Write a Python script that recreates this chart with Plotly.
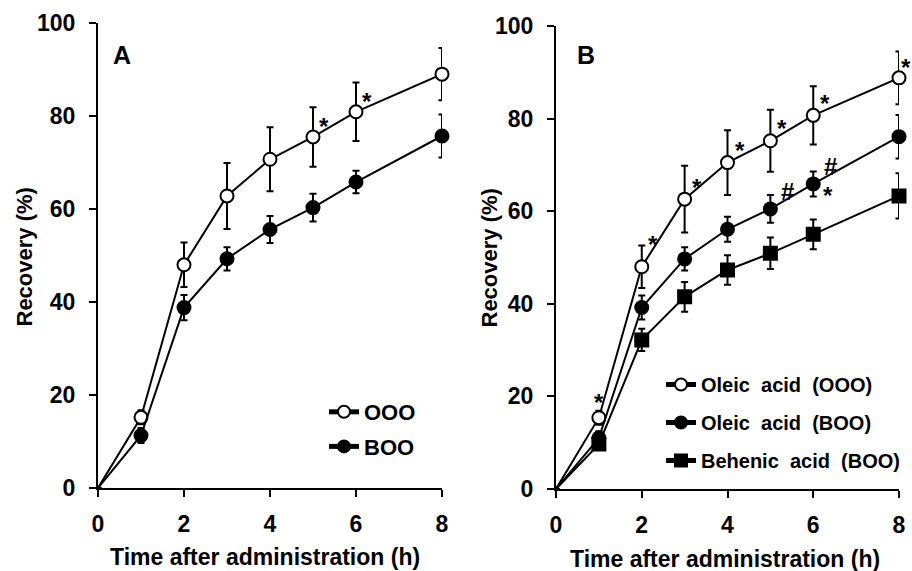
import plotly.graph_objects as go

# ---------------- data ----------------
time = [0, 1, 2, 3, 4, 5, 6, 8]

a_ooo = [0, 15.2, 48.0, 62.8, 70.7, 75.5, 80.9, 89.0]
a_ooo_err = [0, 1.5, 4.8, 7.1, 6.9, 6.4, 6.3, 5.6]
a_boo = [0, 11.3, 38.8, 49.3, 55.6, 60.3, 65.8, 75.7]
a_boo_err = [0, 1.6, 2.7, 2.5, 2.9, 3.0, 2.4, 4.6]

b_ooo = [0, 15.4, 48.0, 62.6, 70.5, 75.2, 80.7, 88.8]
b_ooo_err = [0, 1.5, 4.6, 7.2, 7.0, 6.7, 6.3, 5.7]
b_boo = [0, 11.0, 39.2, 49.7, 56.1, 60.5, 65.9, 76.1]
b_boo_err = [0, 1.5, 2.6, 2.5, 2.7, 3.0, 2.7, 4.7]
b_beh = [0, 9.7, 32.2, 41.5, 47.3, 50.9, 55.0, 63.3]
b_beh_err = [0, 1.2, 2.4, 3.2, 3.2, 3.4, 3.2, 4.9]

names_a = ["OOO", "BOO"]
names_b = ["Oleic  acid  (OOO)", "Oleic  acid  (BOO)", "Behenic  acid  (BOO)"]

# significance marks (time points)
a_ooo_star = [5, 6]
b_ooo_star = [1, 2, 3, 4, 5, 6, 8]
b_boo_hash = [5, 6]
b_boo_star = [6]

x_ticks = [0, 2, 4, 6, 8]
y_ticks = [0, 20, 40, 60, 80, 100]

x_title = "Time after administration (h)"
y_title = "Recovery (%)"

# ---------------- figure ----------------
FONT = "Liberation Sans, Arial, sans-serif"
fig = go.Figure()

msize = [0] + [13] * (len(time) - 1)


def add(x, y, err, name, symbol, fill, xa, ya, legend, group):
    fig.add_trace(go.Scatter(
        x=x, y=y, name=name, mode="lines+markers",
        xaxis=xa, yaxis=ya, legend=legend, legendgroup=group,
        line=dict(color="black", width=2),
        marker=dict(symbol=symbol, size=msize, color=fill, opacity=1,
                    line=dict(color="black", width=2)),
        error_y=dict(type="data", array=err, visible=True,
                     color="black", thickness=2, width=3.5),
        cliponaxis=False,
    ))


add(time, a_ooo, a_ooo_err, names_a[0], "circle", "white", "x", "y", "legend", "a1")
add(time, a_boo, a_boo_err, names_a[1], "circle", "black", "x", "y", "legend", "a2")
add(time, b_ooo, b_ooo_err, names_b[0], "circle", "white", "x2", "y2", "legend2", "b1")
add(time, b_boo, b_boo_err, names_b[1], "circle", "black", "x2", "y2", "legend2", "b2")
add(time, b_beh, b_beh_err, names_b[2], "square", "black", "x2", "y2", "legend2", "b3")

ann = []


def mark(ts, xs, ys, text, xa, ya, dx, dy):
    for t in ts:
        i = xs.index(t)
        ann.append(dict(x=t, y=ys[i], xref=xa, yref=ya, text=text, showarrow=False,
                        xshift=dx, yshift=dy,
                        font=dict(family=FONT, size=24, color="black", weight="bold")))


mark(a_ooo_star, time, a_ooo, "*", "x", "y", 11, 10)
mark([1], time, b_ooo, "*", "x2", "y2", 0, 15)
mark([2], time, b_ooo, "*", "x2", "y2", 11, 22)
mark([3, 4, 5, 6], time, b_ooo, "*", "x2", "y2", 12, 12)
mark([8], time, b_ooo, "*", "x2", "y2", 7, 10)
mark(b_boo_hash, time, b_boo, "#", "x2", "y2", 17, 17)
mark(b_boo_star, time, b_boo, "*", "x2", "y2", 15, -12)


def text_ann(x, y, text, size, angle=0):
    ann.append(dict(x=x / 912, y=1 - y / 571, xref="paper", yref="paper", text=text,
                    showarrow=False, textangle=angle, xanchor="center", yanchor="middle",
                    font=dict(family=FONT, size=size, color="black", weight="bold")))


text_ann(122, 55, "A", 25)
text_ann(586, 55, "B", 25)
text_ann(265, 557, x_title, 23)
text_ann(725, 559, x_title, 23)
text_ann(23.5, 257, y_title, 22, -90)
text_ann(488.5, 258, y_title, 22, -90)

axis_common = dict(showline=True, linecolor="black", linewidth=2, ticks="outside",
                   ticklen=7, tickwidth=2, tickcolor="black", showgrid=False,
                   zeroline=False, mirror=False, automargin=False,
                   tickfont=dict(family=FONT, size=23, color="black", weight="bold"))

legend_common = dict(xanchor="left", yanchor="top", bgcolor="rgba(0,0,0,0)",
                     itemwidth=30, itemsizing="constant")

fig.update_layout(
    width=912, height=571,
    margin=dict(l=0, r=0, t=0, b=0, pad=0),
    paper_bgcolor="white", plot_bgcolor="white",
    showlegend=True,
    xaxis=dict(domain=[98 / 912, 442 / 912], range=[0, 8], tickvals=x_ticks, anchor="y",
               ticklabelstandoff=7, **axis_common),
    yaxis=dict(domain=[1 - 488 / 571, 1 - 23 / 571], range=[0, 100], tickvals=y_ticks, anchor="x",
               ticklabelstandoff=9, **axis_common),
    xaxis2=dict(domain=[556 / 912, 899 / 912], range=[0, 8], tickvals=x_ticks, anchor="y2",
                ticklabelstandoff=7, **axis_common),
    yaxis2=dict(domain=[1 - 489 / 571, 1 - 26 / 571], range=[0, 100], tickvals=y_ticks, anchor="x2",
                ticklabelstandoff=9, **axis_common),
    legend=dict(x=324 / 912, y=1 - 391 / 571, tracegroupgap=3,
                font=dict(family=FONT, size=22, color="black", weight="bold"),
                **legend_common),
    legend2=dict(x=661 / 912, y=1 - 365 / 571, tracegroupgap=9,
                 font=dict(family=FONT, size=20, color="black", weight="bold"),
                 **legend_common),
    annotations=ann,
)

fig.write_html("out.html", config={"displayModeBar": False},
               post_script="document.body.style.margin='0px';document.body.style.overflow='hidden';")
